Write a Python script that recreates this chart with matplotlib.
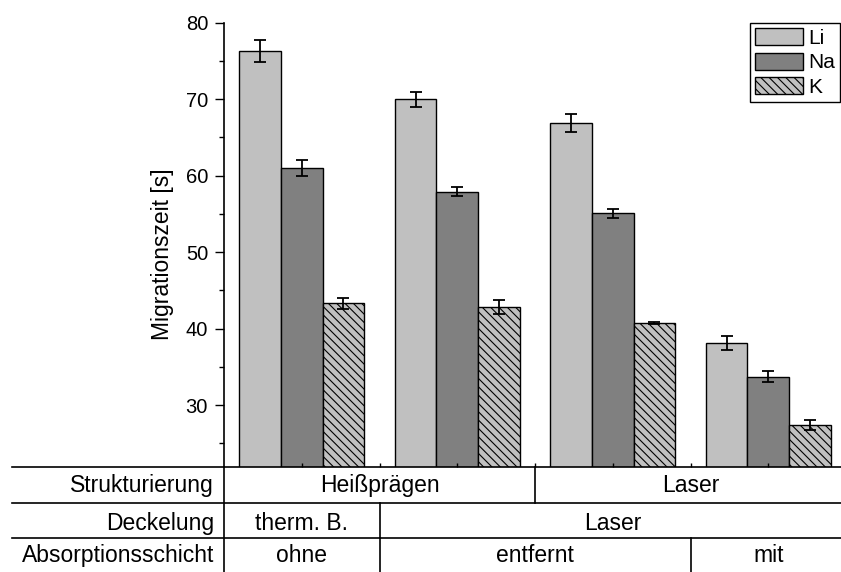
import numpy as np
import matplotlib
matplotlib.use("Agg")
import matplotlib.pyplot as plt
from matplotlib.lines import Line2D

plt.rcParams['font.family'] = ['Liberation Sans', 'DejaVu Sans']
plt.rcParams['hatch.linewidth'] = 0.8

# data
ions = ['Li', 'Na', 'K']
li = [76.3, 70.0, 66.9, 38.1]
li_err = [1.5, 1.0, 1.2, 0.9]
na = [61.0, 57.9, 55.1, 33.7]
na_err = [1.1, 0.6, 0.6, 0.7]
k = [43.3, 42.8, 40.7, 27.4]
k_err = [0.7, 0.9, 0.1, 0.6]

rows = ['Strukturierung', 'Deckelung', 'Absorptionsschicht']
cells = [
    [('Heißprägen', 0.5, 2.5), ('Laser', 2.5, 4.5)],
    [('therm. B.', 0.5, 1.5), ('Laser', 1.5, 4.5)],
    [('ohne', 0.5, 1.5), ('entfernt', 1.5, 3.5), ('mit', 3.5, 4.5)],
]

W, H = 841, 572
fig = plt.figure(figsize=(W / 100, H / 100), dpi=100)
ax_l, ax_r, ax_b, ax_t = 224, 841, 467, 22.7
ax = fig.add_axes([ax_l / W, 1 - ax_b / H, (ax_r - ax_l) / W, (ax_b - ax_t) / H])

x = np.arange(1, 5)
w = 0.268
styles = [dict(color='#c0c0c0'), dict(color='#808080'), dict(color='#c0c0c0', hatch='\\\\\\\\')]
series = [(li, li_err), (na, na_err), (k, k_err)]
for i, ((vals, errs), st) in enumerate(zip(series, styles)):
    ax.bar(x + (i - 1) * w, vals, w, edgecolor='black', linewidth=1.0, label=ions[i], **st)
    ax.errorbar(x + (i - 1) * w, vals, yerr=errs, fmt='none', ecolor='black',
                elinewidth=1.3, capsize=4.5, capthick=1.3)

ax.set_xlim(0.5, 0.5 + (ax_r - ax_l) / 155.5)
ax.set_ylim(21.9, 80)
ax.set_yticks([30, 40, 50, 60, 70, 80])
ax.set_yticks([25, 35, 45, 55, 65, 75], minor=True)
ax.set_xticks(np.arange(1, 4.5, 0.5))
ax.set_xticklabels([])
ax.tick_params(axis='y', which='major', length=6.5, width=1.0, labelsize=14.5, pad=5)
ax.tick_params(axis='y', which='minor', length=3.6, width=1.0)
ax.tick_params(axis='x', which='major', direction='in', length=3, width=1.0)
for s in ['top', 'right', 'bottom']:
    ax.spines[s].set_visible(False)
ax.spines['left'].set_linewidth(1.2)

fig.text(163 / W, 1 - 254 / H, 'Migrationszeit [s]', rotation=90, ha='center', va='center',
         fontsize=16.5)

# table below the axes
def fy(p):
    return (ax_b - p) / (ax_b - ax_t)

left = (12 - ax_l) / (ax_r - ax_l)
for p in [467, 503, 538]:
    ax.add_line(Line2D([left, 1], [fy(p), fy(p)], transform=ax.transAxes, color='black',
                       linewidth=1.2, clip_on=False))
ax.add_line(Line2D([0, 0], [fy(H), 0], transform=ax.transAxes, color='black',
                   linewidth=1.2, clip_on=False))

row_edges = [467, 503, 538, H]
baselines = [492, 530, 562]
tr = ax.get_xaxis_transform()
for r, name in enumerate(rows):
    ax.text(-0.016, fy(baselines[r]), name, transform=ax.transAxes, ha='right',
            va='baseline', fontsize=16.5, clip_on=False)
    for j, (lab, a, b) in enumerate(cells[r]):
        ax.text((a + b) / 2, fy(baselines[r]), lab, transform=tr, ha='center',
                va='baseline', fontsize=16.5, clip_on=False)
        if j > 0:
            ax.add_line(Line2D([a, a], [fy(row_edges[r]), fy(row_edges[r + 1])], transform=tr,
                               color='black', linewidth=1.2, clip_on=False))

leg = fig.legend(loc='upper left', bbox_to_anchor=(750 / W, 1 - 23 / H), fontsize=15,
                 frameon=True, fancybox=False, framealpha=1, edgecolor='black',
                 handlelength=2.3, handleheight=0.87, labelspacing=0.23,
                 handletextpad=0.25, borderpad=0.25, borderaxespad=0)
leg.get_frame().set_linewidth(1.0)

fig.savefig('out.png', dpi=100)
